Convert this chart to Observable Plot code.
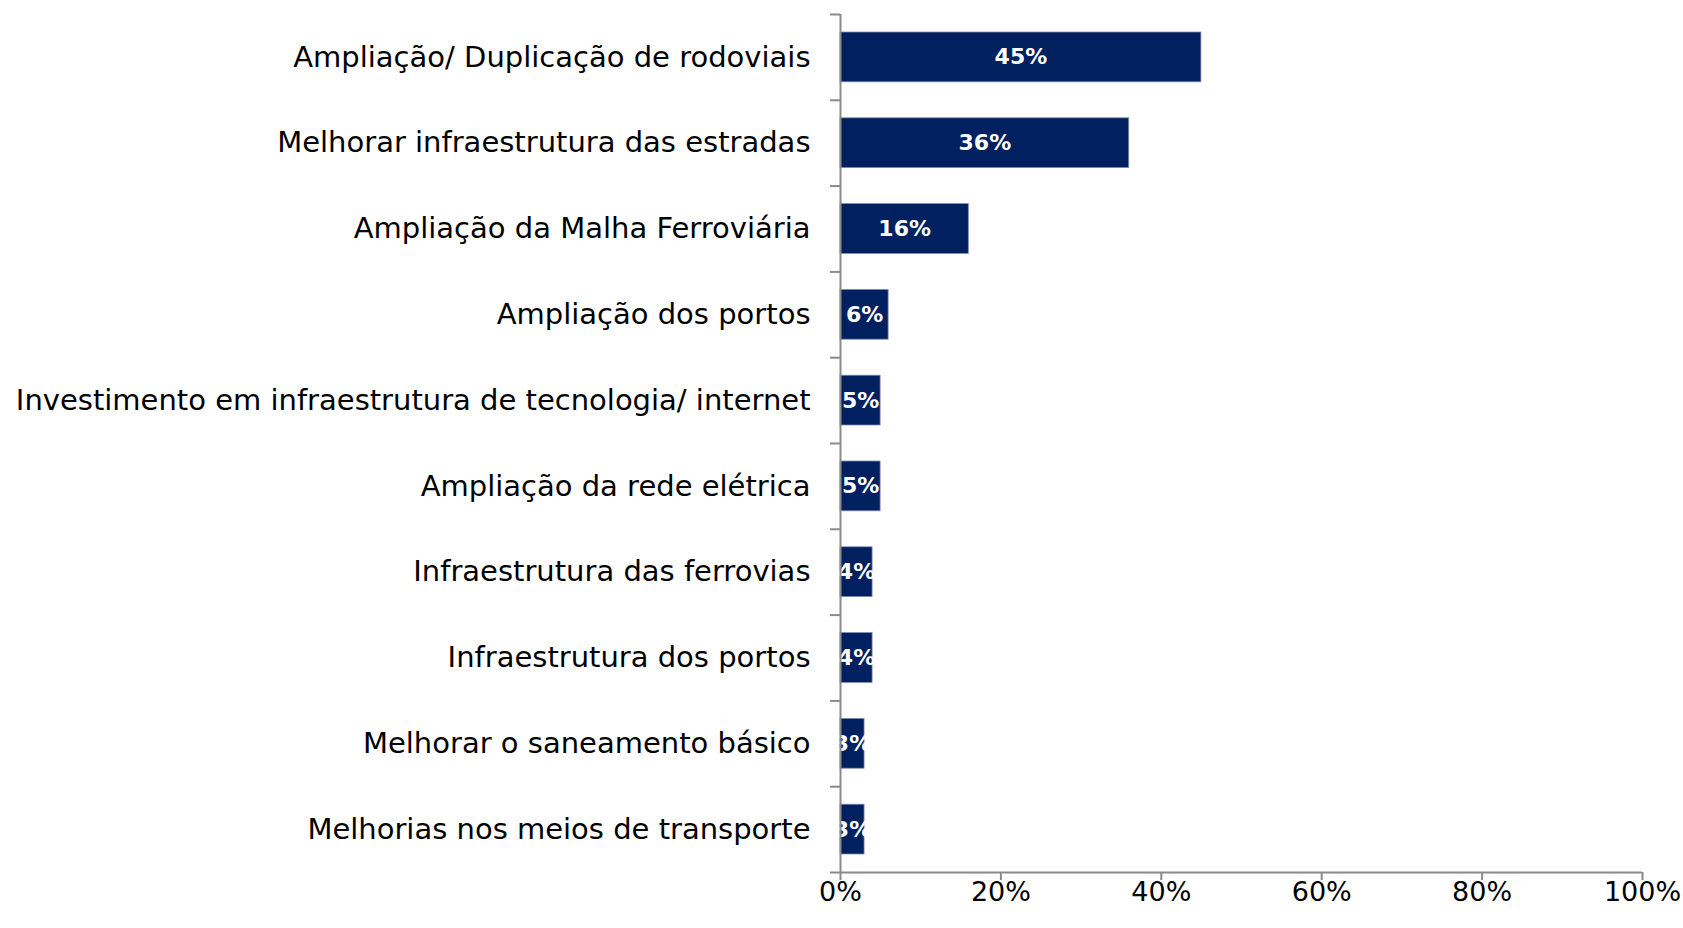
<!DOCTYPE html>
<html>
<head>
<meta charset="utf-8">
<script src="https://cdn.jsdelivr.net/npm/d3@7"></script>
<script src="https://cdn.jsdelivr.net/npm/@observablehq/plot@0.6"></script>
<style>
  html, body { margin: 0; padding: 0; background: #fff; }
  #chart svg { display: block; }
</style>
</head>
<body>
<div id="chart"></div>
<script>
const categories = [
  "Ampliação/ Duplicação de rodoviais",
  "Melhorar infraestrutura das estradas",
  "Ampliação da Malha Ferroviária",
  "Ampliação dos portos",
  "Investimento em infraestrutura de tecnologia/ internet",
  "Ampliação da rede elétrica",
  "Infraestrutura das ferrovias",
  "Infraestrutura dos portos",
  "Melhorar o saneamento básico",
  "Melhorias nos meios de transporte"
];
const values = [0.45, 0.36, 0.16, 0.06, 0.05, 0.05, 0.04, 0.04, 0.03, 0.03];
const xTicks = [0, 0.2, 0.4, 0.6, 0.8, 1.0];

const data = categories.map((c, i) => ({category: c, value: values[i], idx: i}));
const fmt = d3.format(".0%");
const FONT = "'DejaVu Sans', sans-serif";
const AXIS = "#8a8a8a";

const chart = Plot.plot({
  width: 1683,
  height: 928,
  marginTop: 14,
  marginBottom: 56,
  marginLeft: 840,
  marginRight: 41,
  style: {fontFamily: FONT, background: "#fff", color: "#000"},
  x: {domain: [0, 1]},
  y: {domain: [categories.length, 0]},
  marks: [
    Plot.rectX(data, {
      x1: 0, x2: "value",
      y1: "idx", y2: d => d.idx + 1,
      insetTop: 18, insetBottom: 18,
      fill: "#002060",
      stroke: "#7d8db0", strokeWidth: 0.8
    }),
    Plot.text(data, {
      x: d => d.value / 2,
      y: d => d.idx + 0.5,
      text: d => fmt(d.value),
      fill: "#fff",
      fontWeight: "bold",
      fontSize: 22
    }),
    Plot.text(data, {
      x: 0,
      y: d => d.idx + 0.5,
      text: "category",
      textAnchor: "end",
      dx: -30,
      fontSize: 29,
      fill: "#000"
    }),
    Plot.ruleX([0], {stroke: AXIS, strokeWidth: 2}),
    Plot.ruleY([categories.length], {stroke: AXIS, strokeWidth: 2}),
    Plot.axisY({
      ticks: d3.range(categories.length + 1),
      tickFormat: () => "",
      tickSize: 10,
      stroke: AXIS,
      strokeWidth: 2,
      label: null
    }),
    Plot.axisX({
      ticks: xTicks,
      tickFormat: fmt,
      tickSize: 8,
      tickPadding: 1,
      fontSize: 27,
      stroke: AXIS,
      strokeWidth: 2,
      fill: "#000",
      label: null
    })
  ]
});
document.getElementById("chart").appendChild(chart);
</script>
</body>
</html>
